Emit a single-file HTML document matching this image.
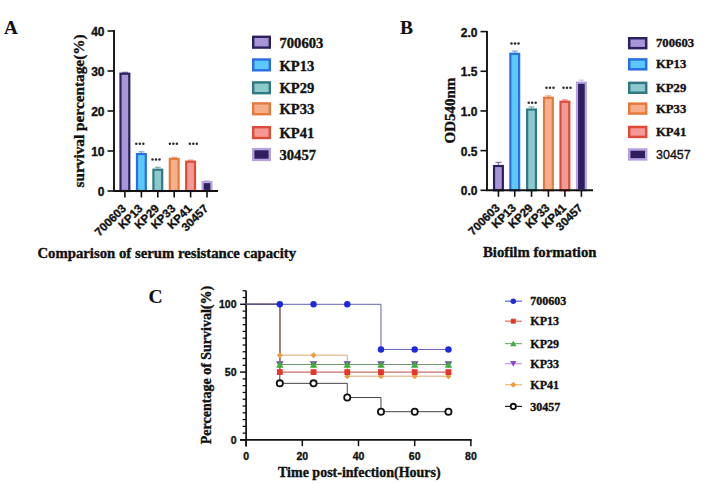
<!DOCTYPE html><html><head><meta charset="utf-8"><style>html,body{margin:0;padding:0;background:#fff;width:710px;height:484px;overflow:hidden}svg{display:block} text{stroke:#111;stroke-width:0.35px}</style></head><body><svg width="710" height="484" viewBox="0 0 710 484">
<rect width="710" height="484" fill="#fff"/>
<text x="4.1" y="33.6" style="font-family:'Liberation Serif',serif;font-weight:bold;font-size:19px;stroke-width:0.1px" fill="#111">A</text>
<text transform="translate(83.8,110.9) rotate(-90)" text-anchor="middle" style="font-family:'Liberation Serif',serif;font-weight:bold;font-size:15.3px" fill="#111">survival percentage(%)</text>
<line x1="107.5" y1="191.0" x2="114" y2="191.0" stroke="#111" stroke-width="1.6"/>
<text x="104.5" y="195.9" text-anchor="end" style="font-family:'Liberation Sans',sans-serif;font-weight:bold;font-size:12px" fill="#111">0</text>
<line x1="107.5" y1="151.0" x2="114" y2="151.0" stroke="#111" stroke-width="1.6"/>
<text x="104.5" y="155.9" text-anchor="end" style="font-family:'Liberation Sans',sans-serif;font-weight:bold;font-size:12px" fill="#111">10</text>
<line x1="107.5" y1="111.0" x2="114" y2="111.0" stroke="#111" stroke-width="1.6"/>
<text x="104.5" y="115.9" text-anchor="end" style="font-family:'Liberation Sans',sans-serif;font-weight:bold;font-size:12px" fill="#111">20</text>
<line x1="107.5" y1="71.0" x2="114" y2="71.0" stroke="#111" stroke-width="1.6"/>
<text x="104.5" y="75.9" text-anchor="end" style="font-family:'Liberation Sans',sans-serif;font-weight:bold;font-size:12px" fill="#111">30</text>
<line x1="107.5" y1="31.0" x2="114" y2="31.0" stroke="#111" stroke-width="1.6"/>
<text x="104.5" y="35.9" text-anchor="end" style="font-family:'Liberation Sans',sans-serif;font-weight:bold;font-size:12px" fill="#111">40</text>
<line x1="124.9" y1="72.6" x2="124.9" y2="72.3" stroke="#2b2160" stroke-width="1.1" stroke-opacity="0.6"/>
<line x1="121.9" y1="72.3" x2="127.9" y2="72.3" stroke="#2b2160" stroke-width="1.2" stroke-opacity="0.6"/>
<rect x="120.5" y="73.69999999999999" width="8.8" height="117.30000000000001" fill="#a795d8" stroke="#2b2160" stroke-width="2.2"/>
<line x1="124.9" y1="191" x2="124.9" y2="197.5" stroke="#111" stroke-width="1.6"/>
<text transform="translate(126.9,209.3) rotate(-45)" text-anchor="end" style="font-family:'Liberation Sans',sans-serif;font-weight:bold;font-size:11.6px" fill="#111">700603</text>
<line x1="141.4" y1="153.0" x2="141.4" y2="151.8" stroke="#2a6ee0" stroke-width="1.1" stroke-opacity="0.6"/>
<line x1="138.4" y1="151.8" x2="144.4" y2="151.8" stroke="#2a6ee0" stroke-width="1.2" stroke-opacity="0.6"/>
<rect x="137.0" y="154.1" width="8.8" height="36.9" fill="#5ac8f8" stroke="#2a6ee0" stroke-width="2.2"/>
<line x1="141.4" y1="191" x2="141.4" y2="197.5" stroke="#111" stroke-width="1.6"/>
<circle cx="136.3" cy="143.8" r="1.25" fill="#2a2a2a"/>
<circle cx="139.8" cy="143.8" r="1.25" fill="#2a2a2a"/>
<circle cx="143.3" cy="143.8" r="1.25" fill="#2a2a2a"/>
<text transform="translate(143.4,209.3) rotate(-45)" text-anchor="end" style="font-family:'Liberation Sans',sans-serif;font-weight:bold;font-size:11.6px" fill="#111">KP13</text>
<line x1="157.8" y1="168.6" x2="157.8" y2="167.29999999999998" stroke="#2f7a80" stroke-width="1.1" stroke-opacity="0.6"/>
<line x1="154.8" y1="167.29999999999998" x2="160.8" y2="167.29999999999998" stroke="#2f7a80" stroke-width="1.2" stroke-opacity="0.6"/>
<rect x="153.4" y="169.7" width="8.8" height="21.300000000000004" fill="#8cc8cc" stroke="#2f7a80" stroke-width="2.2"/>
<line x1="157.8" y1="191" x2="157.8" y2="197.5" stroke="#111" stroke-width="1.6"/>
<circle cx="152.5" cy="159.4" r="1.25" fill="#2a2a2a"/>
<circle cx="156" cy="159.4" r="1.25" fill="#2a2a2a"/>
<circle cx="159.5" cy="159.4" r="1.25" fill="#2a2a2a"/>
<text transform="translate(159.8,209.3) rotate(-45)" text-anchor="end" style="font-family:'Liberation Sans',sans-serif;font-weight:bold;font-size:11.6px" fill="#111">KP29</text>
<line x1="174.2" y1="157.8" x2="174.2" y2="157.3" stroke="#e57a3c" stroke-width="1.1" stroke-opacity="0.6"/>
<line x1="171.2" y1="157.3" x2="177.2" y2="157.3" stroke="#e57a3c" stroke-width="1.2" stroke-opacity="0.6"/>
<rect x="169.79999999999998" y="158.9" width="8.8" height="32.09999999999999" fill="#f5b08a" stroke="#e57a3c" stroke-width="2.2"/>
<line x1="174.2" y1="191" x2="174.2" y2="197.5" stroke="#111" stroke-width="1.6"/>
<circle cx="169.9" cy="143.8" r="1.25" fill="#2a2a2a"/>
<circle cx="173.4" cy="143.8" r="1.25" fill="#2a2a2a"/>
<circle cx="176.9" cy="143.8" r="1.25" fill="#2a2a2a"/>
<text transform="translate(176.2,209.3) rotate(-45)" text-anchor="end" style="font-family:'Liberation Sans',sans-serif;font-weight:bold;font-size:11.6px" fill="#111">KP33</text>
<line x1="190.6" y1="160.6" x2="190.6" y2="160.1" stroke="#e04a38" stroke-width="1.1" stroke-opacity="0.6"/>
<line x1="187.6" y1="160.1" x2="193.6" y2="160.1" stroke="#e04a38" stroke-width="1.2" stroke-opacity="0.6"/>
<rect x="186.2" y="161.7" width="8.8" height="29.300000000000004" fill="#f39a96" stroke="#e04a38" stroke-width="2.2"/>
<line x1="190.6" y1="191" x2="190.6" y2="197.5" stroke="#111" stroke-width="1.6"/>
<circle cx="189.8" cy="143.8" r="1.25" fill="#2a2a2a"/>
<circle cx="193.3" cy="143.8" r="1.25" fill="#2a2a2a"/>
<circle cx="196.8" cy="143.8" r="1.25" fill="#2a2a2a"/>
<text transform="translate(192.6,209.3) rotate(-45)" text-anchor="end" style="font-family:'Liberation Sans',sans-serif;font-weight:bold;font-size:11.6px" fill="#111">KP41</text>
<line x1="207.0" y1="181.0" x2="207.0" y2="180.7" stroke="#b6a2e0" stroke-width="1.1" stroke-opacity="0.6"/>
<line x1="204.0" y1="180.7" x2="210.0" y2="180.7" stroke="#b6a2e0" stroke-width="1.2" stroke-opacity="0.6"/>
<rect x="202.6" y="182.1" width="8.8" height="8.9" fill="#2e1e60" stroke="#b6a2e0" stroke-width="2.2"/>
<line x1="207.0" y1="191" x2="207.0" y2="197.5" stroke="#111" stroke-width="1.6"/>
<text transform="translate(209.0,209.3) rotate(-45)" text-anchor="end" style="font-family:'Liberation Sans',sans-serif;font-weight:bold;font-size:11.6px" fill="#111">30457</text>
<line x1="114" y1="30" x2="114" y2="191.8" stroke="#111" stroke-width="1.9"/>
<line x1="113.1" y1="191" x2="218" y2="191" stroke="#111" stroke-width="1.9"/>
<text x="37.4" y="257.8" style="font-family:'Liberation Serif',serif;font-weight:bold;font-size:14.75px" fill="#111">Comparison of serum resistance capacity</text>
<rect x="253.2" y="36.800000000000004" width="16.6" height="10.8" fill="#a795d8" stroke="#2b2160" stroke-width="2.4"/>
<text x="279.5" y="47.800000000000004" style="font-family:'Liberation Serif',serif;font-weight:bold;font-size:14.6px" fill="#111">700603</text>
<rect x="253.2" y="59.50000000000001" width="16.6" height="10.8" fill="#5ac8f8" stroke="#2a6ee0" stroke-width="2.4"/>
<text x="279.5" y="70.5" style="font-family:'Liberation Serif',serif;font-weight:bold;font-size:14.6px" fill="#111">KP13</text>
<rect x="253.2" y="82.39999999999999" width="16.6" height="10.8" fill="#8cc8cc" stroke="#2f7a80" stroke-width="2.4"/>
<text x="279.5" y="93.39999999999999" style="font-family:'Liberation Serif',serif;font-weight:bold;font-size:14.6px" fill="#111">KP29</text>
<rect x="253.2" y="103.39999999999999" width="16.6" height="10.8" fill="#f5b08a" stroke="#e57a3c" stroke-width="2.4"/>
<text x="279.5" y="114.39999999999999" style="font-family:'Liberation Serif',serif;font-weight:bold;font-size:14.6px" fill="#111">KP33</text>
<rect x="253.2" y="127.19999999999999" width="16.6" height="10.8" fill="#f39a96" stroke="#e04a38" stroke-width="2.4"/>
<text x="279.5" y="138.2" style="font-family:'Liberation Serif',serif;font-weight:bold;font-size:14.6px" fill="#111">KP41</text>
<rect x="253.2" y="149.1" width="16.6" height="10.8" fill="#2e1e60" stroke="#b6a2e0" stroke-width="2.4"/>
<text x="279.5" y="160.1" style="font-family:'Liberation Serif',serif;font-weight:bold;font-size:14.6px" fill="#111">30457</text>
<text x="399.9" y="33.8" style="font-family:'Liberation Serif',serif;font-weight:bold;font-size:19.5px;stroke-width:0.15px" fill="#111">B</text>
<text transform="translate(454.6,110.6) rotate(-90)" text-anchor="middle" style="font-family:'Liberation Serif',serif;font-weight:bold;font-size:15px" fill="#111">OD540nm</text>
<line x1="480.5" y1="190.3" x2="487" y2="190.3" stroke="#111" stroke-width="1.6"/>
<text x="477.5" y="195.20000000000002" text-anchor="end" style="font-family:'Liberation Sans',sans-serif;font-weight:bold;font-size:12px" fill="#111">0.0</text>
<line x1="480.5" y1="150.625" x2="487" y2="150.625" stroke="#111" stroke-width="1.6"/>
<text x="477.5" y="155.525" text-anchor="end" style="font-family:'Liberation Sans',sans-serif;font-weight:bold;font-size:12px" fill="#111">0.5</text>
<line x1="480.5" y1="110.95000000000002" x2="487" y2="110.95000000000002" stroke="#111" stroke-width="1.6"/>
<text x="477.5" y="115.85000000000002" text-anchor="end" style="font-family:'Liberation Sans',sans-serif;font-weight:bold;font-size:12px" fill="#111">1.0</text>
<line x1="480.5" y1="71.27500000000002" x2="487" y2="71.27500000000002" stroke="#111" stroke-width="1.6"/>
<text x="477.5" y="76.17500000000003" text-anchor="end" style="font-family:'Liberation Sans',sans-serif;font-weight:bold;font-size:12px" fill="#111">1.5</text>
<line x1="480.5" y1="31.600000000000023" x2="487" y2="31.600000000000023" stroke="#111" stroke-width="1.6"/>
<text x="477.5" y="36.50000000000002" text-anchor="end" style="font-family:'Liberation Sans',sans-serif;font-weight:bold;font-size:12px" fill="#111">2.0</text>
<line x1="498.45" y1="164.90800000000002" x2="498.45" y2="162.40800000000002" stroke="#2b2160" stroke-width="1.1" stroke-opacity="0.6"/>
<line x1="495.45" y1="162.40800000000002" x2="501.45" y2="162.40800000000002" stroke="#2b2160" stroke-width="1.2" stroke-opacity="0.6"/>
<rect x="494.05" y="166.008" width="8.8" height="24.291999999999994" fill="#a795d8" stroke="#2b2160" stroke-width="2.2"/>
<line x1="498.45" y1="190.3" x2="498.45" y2="196.8" stroke="#111" stroke-width="1.6"/>
<text transform="translate(500.45,208.60000000000002) rotate(-45)" text-anchor="end" style="font-family:'Liberation Sans',sans-serif;font-weight:bold;font-size:11.6px" fill="#111">700603</text>
<line x1="514.75" y1="52.707100000000025" x2="514.75" y2="51.107100000000024" stroke="#2a6ee0" stroke-width="1.1" stroke-opacity="0.6"/>
<line x1="511.75" y1="51.107100000000024" x2="517.75" y2="51.107100000000024" stroke="#2a6ee0" stroke-width="1.2" stroke-opacity="0.6"/>
<rect x="510.35" y="53.80710000000003" width="8.8" height="136.4929" fill="#5ac8f8" stroke="#2a6ee0" stroke-width="2.2"/>
<line x1="514.75" y1="190.3" x2="514.75" y2="196.8" stroke="#111" stroke-width="1.6"/>
<circle cx="511.5" cy="43.6" r="1.25" fill="#2a2a2a"/>
<circle cx="515" cy="43.6" r="1.25" fill="#2a2a2a"/>
<circle cx="518.5" cy="43.6" r="1.25" fill="#2a2a2a"/>
<text transform="translate(516.75,208.60000000000002) rotate(-45)" text-anchor="end" style="font-family:'Liberation Sans',sans-serif;font-weight:bold;font-size:11.6px" fill="#111">KP13</text>
<line x1="531.55" y1="108.41080000000001" x2="531.55" y2="106.91080000000001" stroke="#2f7a80" stroke-width="1.1" stroke-opacity="0.6"/>
<line x1="528.55" y1="106.91080000000001" x2="534.55" y2="106.91080000000001" stroke="#2f7a80" stroke-width="1.2" stroke-opacity="0.6"/>
<rect x="527.15" y="109.5108" width="8.8" height="80.78920000000001" fill="#8cc8cc" stroke="#2f7a80" stroke-width="2.2"/>
<line x1="531.55" y1="190.3" x2="531.55" y2="196.8" stroke="#111" stroke-width="1.6"/>
<circle cx="528.7" cy="102.7" r="1.25" fill="#2a2a2a"/>
<circle cx="532.2" cy="102.7" r="1.25" fill="#2a2a2a"/>
<circle cx="535.7" cy="102.7" r="1.25" fill="#2a2a2a"/>
<text transform="translate(533.55,208.60000000000002) rotate(-45)" text-anchor="end" style="font-family:'Liberation Sans',sans-serif;font-weight:bold;font-size:11.6px" fill="#111">KP29</text>
<line x1="548.4" y1="96.66700000000003" x2="548.4" y2="95.86700000000003" stroke="#e57a3c" stroke-width="1.1" stroke-opacity="0.6"/>
<line x1="545.4" y1="95.86700000000003" x2="551.4" y2="95.86700000000003" stroke="#e57a3c" stroke-width="1.2" stroke-opacity="0.6"/>
<rect x="544.0" y="97.76700000000002" width="8.8" height="92.53299999999999" fill="#f5b08a" stroke="#e57a3c" stroke-width="2.2"/>
<line x1="548.4" y1="190.3" x2="548.4" y2="196.8" stroke="#111" stroke-width="1.6"/>
<circle cx="546.5" cy="87.8" r="1.25" fill="#2a2a2a"/>
<circle cx="550" cy="87.8" r="1.25" fill="#2a2a2a"/>
<circle cx="553.5" cy="87.8" r="1.25" fill="#2a2a2a"/>
<text transform="translate(550.4,208.60000000000002) rotate(-45)" text-anchor="end" style="font-family:'Liberation Sans',sans-serif;font-weight:bold;font-size:11.6px" fill="#111">KP33</text>
<line x1="564.9" y1="100.63450000000003" x2="564.9" y2="99.83450000000003" stroke="#e04a38" stroke-width="1.1" stroke-opacity="0.6"/>
<line x1="561.9" y1="99.83450000000003" x2="567.9" y2="99.83450000000003" stroke="#e04a38" stroke-width="1.2" stroke-opacity="0.6"/>
<rect x="560.5" y="101.73450000000003" width="8.8" height="88.56549999999999" fill="#f39a96" stroke="#e04a38" stroke-width="2.2"/>
<line x1="564.9" y1="190.3" x2="564.9" y2="196.8" stroke="#111" stroke-width="1.6"/>
<circle cx="563.5" cy="87.8" r="1.25" fill="#2a2a2a"/>
<circle cx="567" cy="87.8" r="1.25" fill="#2a2a2a"/>
<circle cx="570.5" cy="87.8" r="1.25" fill="#2a2a2a"/>
<text transform="translate(566.9,208.60000000000002) rotate(-45)" text-anchor="end" style="font-family:'Liberation Sans',sans-serif;font-weight:bold;font-size:11.6px" fill="#111">KP41</text>
<line x1="581.4" y1="81.5905" x2="581.4" y2="80.0905" stroke="#b6a2e0" stroke-width="1.1" stroke-opacity="0.6"/>
<line x1="578.4" y1="80.0905" x2="584.4" y2="80.0905" stroke="#b6a2e0" stroke-width="1.2" stroke-opacity="0.6"/>
<rect x="577.0" y="82.6905" width="8.8" height="107.60950000000001" fill="#2e1e60" stroke="#b6a2e0" stroke-width="2.2"/>
<line x1="581.4" y1="190.3" x2="581.4" y2="196.8" stroke="#111" stroke-width="1.6"/>
<text transform="translate(583.4,208.60000000000002) rotate(-45)" text-anchor="end" style="font-family:'Liberation Sans',sans-serif;font-weight:bold;font-size:11.6px" fill="#111">30457</text>
<line x1="487" y1="31" x2="487" y2="191.10000000000002" stroke="#111" stroke-width="1.9"/>
<line x1="486.1" y1="190.3" x2="593" y2="190.3" stroke="#111" stroke-width="1.9"/>
<text x="483" y="257" style="font-family:'Liberation Serif',serif;font-weight:bold;font-size:14.75px" fill="#111">Biofilm formation</text>
<rect x="629.2" y="38.25" width="17" height="9.9" fill="#a795d8" stroke="#2b2160" stroke-width="2.5"/>
<text x="656" y="47.1" style="font-family:'Liberation Serif',serif;font-weight:bold;font-size:12.7px" fill="#111">700603</text>
<rect x="629.2" y="59.4" width="17" height="9.9" fill="#5ac8f8" stroke="#2a6ee0" stroke-width="2.5"/>
<text x="656" y="68.25" style="font-family:'Liberation Serif',serif;font-weight:bold;font-size:12.7px" fill="#111">KP13</text>
<rect x="629.2" y="82.85000000000001" width="17" height="9.9" fill="#8cc8cc" stroke="#2f7a80" stroke-width="2.5"/>
<text x="656" y="91.7" style="font-family:'Liberation Serif',serif;font-weight:bold;font-size:12.7px" fill="#111">KP29</text>
<rect x="629.2" y="103.65" width="17" height="9.9" fill="#f5b08a" stroke="#e57a3c" stroke-width="2.5"/>
<text x="656" y="112.5" style="font-family:'Liberation Serif',serif;font-weight:bold;font-size:12.7px" fill="#111">KP33</text>
<rect x="629.2" y="127.0" width="17" height="9.9" fill="#f39a96" stroke="#e04a38" stroke-width="2.5"/>
<text x="656" y="135.85" style="font-family:'Liberation Serif',serif;font-weight:bold;font-size:12.7px" fill="#111">KP41</text>
<rect x="629.2" y="149.5" width="17" height="9.9" fill="#2e1e60" stroke="#b6a2e0" stroke-width="2.5"/>
<text x="656" y="158.54999999999998" style="font-family:'Liberation Sans',sans-serif;font-weight:normal;font-size:12.5px" fill="#111">30457</text>
<text x="148.4" y="303" style="font-family:'Liberation Serif',serif;font-weight:bold;font-size:19.5px;stroke-width:0.15px" fill="#111">C</text>
<text transform="translate(211.2,365) rotate(-90)" text-anchor="middle" style="font-family:'Liberation Serif',serif;font-weight:bold;font-size:14px" fill="#111">Percentage of Survival(%)</text>
<line x1="246.1" y1="290.74" x2="246.1" y2="446.4" stroke="#111" stroke-width="1.7"/>
<line x1="240.1" y1="439.9" x2="471.7" y2="439.9" stroke="#111" stroke-width="1.7"/>
<line x1="240.1" y1="439.9" x2="246.1" y2="439.9" stroke="#111" stroke-width="1.5"/>
<line x1="242.6" y1="433.12" x2="246.1" y2="433.12" stroke="#111" stroke-width="1.3"/>
<line x1="242.6" y1="426.34" x2="246.1" y2="426.34" stroke="#111" stroke-width="1.3"/>
<line x1="242.6" y1="419.56" x2="246.1" y2="419.56" stroke="#111" stroke-width="1.3"/>
<line x1="242.6" y1="412.78" x2="246.1" y2="412.78" stroke="#111" stroke-width="1.3"/>
<line x1="242.6" y1="406.0" x2="246.1" y2="406.0" stroke="#111" stroke-width="1.3"/>
<line x1="242.6" y1="399.21999999999997" x2="246.1" y2="399.21999999999997" stroke="#111" stroke-width="1.3"/>
<line x1="242.6" y1="392.44" x2="246.1" y2="392.44" stroke="#111" stroke-width="1.3"/>
<line x1="242.6" y1="385.65999999999997" x2="246.1" y2="385.65999999999997" stroke="#111" stroke-width="1.3"/>
<line x1="242.6" y1="378.88" x2="246.1" y2="378.88" stroke="#111" stroke-width="1.3"/>
<line x1="240.1" y1="372.09999999999997" x2="246.1" y2="372.09999999999997" stroke="#111" stroke-width="1.5"/>
<line x1="242.6" y1="365.32" x2="246.1" y2="365.32" stroke="#111" stroke-width="1.3"/>
<line x1="242.6" y1="358.53999999999996" x2="246.1" y2="358.53999999999996" stroke="#111" stroke-width="1.3"/>
<line x1="242.6" y1="351.76" x2="246.1" y2="351.76" stroke="#111" stroke-width="1.3"/>
<line x1="242.6" y1="344.97999999999996" x2="246.1" y2="344.97999999999996" stroke="#111" stroke-width="1.3"/>
<line x1="242.6" y1="338.2" x2="246.1" y2="338.2" stroke="#111" stroke-width="1.3"/>
<line x1="242.6" y1="331.41999999999996" x2="246.1" y2="331.41999999999996" stroke="#111" stroke-width="1.3"/>
<line x1="242.6" y1="324.64" x2="246.1" y2="324.64" stroke="#111" stroke-width="1.3"/>
<line x1="242.6" y1="317.85999999999996" x2="246.1" y2="317.85999999999996" stroke="#111" stroke-width="1.3"/>
<line x1="242.6" y1="311.0799999999999" x2="246.1" y2="311.0799999999999" stroke="#111" stroke-width="1.3"/>
<line x1="240.1" y1="304.29999999999995" x2="246.1" y2="304.29999999999995" stroke="#111" stroke-width="1.5"/>
<line x1="242.6" y1="297.52" x2="246.1" y2="297.52" stroke="#111" stroke-width="1.3"/>
<line x1="242.6" y1="290.74" x2="246.1" y2="290.74" stroke="#111" stroke-width="1.3"/>
<text x="236.5" y="443.59999999999997" text-anchor="end" style="font-family:'Liberation Sans',sans-serif;font-weight:bold;font-size:10.5px" fill="#111">0</text>
<text x="236.5" y="375.79999999999995" text-anchor="end" style="font-family:'Liberation Sans',sans-serif;font-weight:bold;font-size:10.5px" fill="#111">50</text>
<text x="236.5" y="307.99999999999994" text-anchor="end" style="font-family:'Liberation Sans',sans-serif;font-weight:bold;font-size:10.5px" fill="#111">100</text>
<line x1="246.1" y1="439.9" x2="246.1" y2="446.2" stroke="#111" stroke-width="1.5"/>
<text x="246.1" y="459.7" text-anchor="middle" style="font-family:'Liberation Sans',sans-serif;font-weight:bold;font-size:10.5px" fill="#111">0</text>
<line x1="302.3" y1="439.9" x2="302.3" y2="446.2" stroke="#111" stroke-width="1.5"/>
<text x="302.3" y="459.7" text-anchor="middle" style="font-family:'Liberation Sans',sans-serif;font-weight:bold;font-size:10.5px" fill="#111">20</text>
<line x1="358.5" y1="439.9" x2="358.5" y2="446.2" stroke="#111" stroke-width="1.5"/>
<text x="358.5" y="459.7" text-anchor="middle" style="font-family:'Liberation Sans',sans-serif;font-weight:bold;font-size:10.5px" fill="#111">40</text>
<line x1="414.7" y1="439.9" x2="414.7" y2="446.2" stroke="#111" stroke-width="1.5"/>
<text x="414.7" y="459.7" text-anchor="middle" style="font-family:'Liberation Sans',sans-serif;font-weight:bold;font-size:10.5px" fill="#111">60</text>
<line x1="470.9" y1="439.9" x2="470.9" y2="446.2" stroke="#111" stroke-width="1.5"/>
<text x="470.9" y="459.7" text-anchor="middle" style="font-family:'Liberation Sans',sans-serif;font-weight:bold;font-size:10.5px" fill="#111">80</text>
<text x="278" y="476.6" style="font-family:'Liberation Serif',serif;font-weight:bold;font-size:14px" fill="#111">Time post-infection(Hours)</text>
<path d="M246.10,304.30 L279.82,304.30 L279.82,383.35 L347.26,383.35 L347.26,397.52 L380.98,397.52 L380.98,411.70 L448.42,411.70" fill="none" stroke="#444" stroke-width="1.0"/>
<path d="M246.10,304.30 L279.82,304.30 L279.82,355.15 L347.26,355.15 L347.26,376.17 L448.42,376.17" fill="none" stroke="#d8a870" stroke-width="1.0"/>
<path d="M246.10,304.30 L279.82,304.30 L279.82,364.51 L448.42,364.51" fill="none" stroke="#8a70b0" stroke-width="1.0"/>
<path d="M246.10,304.30 L279.82,304.30 L279.82,364.51 L448.42,364.51" fill="none" stroke="#6e9a6e" stroke-width="1.0"/>
<path d="M246.10,304.30 L279.82,304.30 L279.82,372.10 L448.42,372.10" fill="none" stroke="#b84c44" stroke-width="1.0"/>
<path d="M246.10,304.30 L380.98,304.30 L380.98,349.45 L448.42,349.45" fill="none" stroke="#6262b0" stroke-width="1.0"/>
<line x1="279.82" y1="304.29999999999995" x2="279.82" y2="369.388" stroke="#b08078" stroke-width="1.1"/>
<line x1="246.1" y1="304.29999999999995" x2="279.82" y2="304.29999999999995" stroke="#56568a" stroke-width="1.2"/>
<circle cx="279.82" cy="383.35479999999995" r="3.1" fill="#fff" stroke="#111" stroke-width="1.8"/>
<circle cx="313.53999999999996" cy="383.35479999999995" r="3.1" fill="#fff" stroke="#111" stroke-width="1.8"/>
<circle cx="347.26" cy="397.525" r="3.1" fill="#fff" stroke="#111" stroke-width="1.8"/>
<circle cx="380.98" cy="411.6952" r="3.1" fill="#fff" stroke="#111" stroke-width="1.8"/>
<circle cx="414.7" cy="411.6952" r="3.1" fill="#fff" stroke="#111" stroke-width="1.8"/>
<circle cx="448.41999999999996" cy="411.6952" r="3.1" fill="#fff" stroke="#111" stroke-width="1.8"/>
<path d="M279.82,352.15 L282.82,355.15 L279.82,358.15 L276.82,355.15 Z" fill="#f09a40"/>
<path d="M313.53999999999996,352.15 L316.53999999999996,355.15 L313.53999999999996,358.15 L310.53999999999996,355.15 Z" fill="#f09a40"/>
<path d="M347.26,373.16799999999995 L350.26,376.16799999999995 L347.26,379.16799999999995 L344.26,376.16799999999995 Z" fill="#f09a40"/>
<path d="M380.98,373.16799999999995 L383.98,376.16799999999995 L380.98,379.16799999999995 L377.98,376.16799999999995 Z" fill="#f09a40"/>
<path d="M414.7,373.16799999999995 L417.7,376.16799999999995 L414.7,379.16799999999995 L411.7,376.16799999999995 Z" fill="#f09a40"/>
<path d="M448.41999999999996,373.16799999999995 L451.41999999999996,376.16799999999995 L448.41999999999996,379.16799999999995 L445.41999999999996,376.16799999999995 Z" fill="#f09a40"/>
<path d="M276.12,361.3614 L283.52,361.3614 L279.82,368.2064 Z" fill="#6a4aa8"/>
<path d="M309.84,361.3614 L317.23999999999995,361.3614 L313.53999999999996,368.2064 Z" fill="#6a4aa8"/>
<path d="M343.56,361.3614 L350.96,361.3614 L347.26,368.2064 Z" fill="#6a4aa8"/>
<path d="M377.28000000000003,361.3614 L384.68,361.3614 L380.98,368.2064 Z" fill="#6a4aa8"/>
<path d="M411.0,361.3614 L418.4,361.3614 L414.7,368.2064 Z" fill="#6a4aa8"/>
<path d="M444.71999999999997,361.3614 L452.11999999999995,361.3614 L448.41999999999996,368.2064 Z" fill="#6a4aa8"/>
<path d="M276.12,367.65139999999997 L283.52,367.65139999999997 L279.82,360.8064 Z" fill="#3fae3a"/>
<path d="M309.84,367.65139999999997 L317.23999999999995,367.65139999999997 L313.53999999999996,360.8064 Z" fill="#3fae3a"/>
<path d="M343.56,367.65139999999997 L350.96,367.65139999999997 L347.26,360.8064 Z" fill="#3fae3a"/>
<path d="M377.28000000000003,367.65139999999997 L384.68,367.65139999999997 L380.98,360.8064 Z" fill="#3fae3a"/>
<path d="M411.0,367.65139999999997 L418.4,367.65139999999997 L414.7,360.8064 Z" fill="#3fae3a"/>
<path d="M444.71999999999997,367.65139999999997 L452.11999999999995,367.65139999999997 L448.41999999999996,360.8064 Z" fill="#3fae3a"/>
<rect x="276.92" y="369.2" width="5.8" height="5.8" fill="#e8352a"/>
<rect x="310.64" y="369.2" width="5.8" height="5.8" fill="#e8352a"/>
<rect x="344.36" y="369.2" width="5.8" height="5.8" fill="#e8352a"/>
<rect x="378.08000000000004" y="369.2" width="5.8" height="5.8" fill="#e8352a"/>
<rect x="411.8" y="369.2" width="5.8" height="5.8" fill="#e8352a"/>
<rect x="445.52" y="369.2" width="5.8" height="5.8" fill="#e8352a"/>
<circle cx="279.82" cy="304.29999999999995" r="3.2" fill="#1e2ad8"/>
<circle cx="313.53999999999996" cy="304.29999999999995" r="3.2" fill="#1e2ad8"/>
<circle cx="347.26" cy="304.29999999999995" r="3.2" fill="#1e2ad8"/>
<circle cx="380.98" cy="349.4548" r="3.2" fill="#1e2ad8"/>
<circle cx="414.7" cy="349.4548" r="3.2" fill="#1e2ad8"/>
<circle cx="448.41999999999996" cy="349.4548" r="3.2" fill="#1e2ad8"/>
<line x1="505" y1="301.2" x2="522" y2="301.2" stroke="#5563e0" stroke-width="1.2"/>
<circle cx="513.3" cy="301.2" r="2.72" fill="#1e2ad8"/>
<text x="530.3" y="305.3" style="font-family:'Liberation Serif',serif;font-weight:bold;font-size:12px" fill="#111">700603</text>
<line x1="505" y1="321.2" x2="522" y2="321.2" stroke="#e06a60" stroke-width="1.2"/>
<rect x="510.835" y="318.735" width="4.93" height="4.93" fill="#e8352a"/>
<text x="530.3" y="325.3" style="font-family:'Liberation Serif',serif;font-weight:bold;font-size:12px" fill="#111">KP13</text>
<line x1="505" y1="343.6" x2="522" y2="343.6" stroke="#70b870" stroke-width="1.2"/>
<path d="M510.155,346.27325 L516.4449999999999,346.27325 L513.3,340.45500000000004 Z" fill="#3fae3a"/>
<text x="530.3" y="347.70000000000005" style="font-family:'Liberation Serif',serif;font-weight:bold;font-size:12px" fill="#111">KP29</text>
<line x1="505" y1="363.7" x2="522" y2="363.7" stroke="#c49ae0" stroke-width="1.2"/>
<path d="M510.155,361.02675 L516.4449999999999,361.02675 L513.3,366.84499999999997 Z" fill="#8e44cc"/>
<text x="530.3" y="367.8" style="font-family:'Liberation Serif',serif;font-weight:bold;font-size:12px" fill="#111">KP33</text>
<line x1="505" y1="384.7" x2="522" y2="384.7" stroke="#f0b878" stroke-width="1.2"/>
<path d="M513.3,381.7 L516.3,384.7 L513.3,387.7 L510.29999999999995,384.7 Z" fill="#f09a40"/>
<text x="530.3" y="388.8" style="font-family:'Liberation Serif',serif;font-weight:bold;font-size:12px" fill="#111">KP41</text>
<line x1="505" y1="406.4" x2="522" y2="406.4" stroke="#222" stroke-width="1.2"/>
<circle cx="513.3" cy="406.4" r="2.635" fill="#fff" stroke="#111" stroke-width="1.8"/>
<text x="530.3" y="410.5" style="font-family:'Liberation Serif',serif;font-weight:bold;font-size:12px" fill="#111">30457</text>
</svg></body></html>
